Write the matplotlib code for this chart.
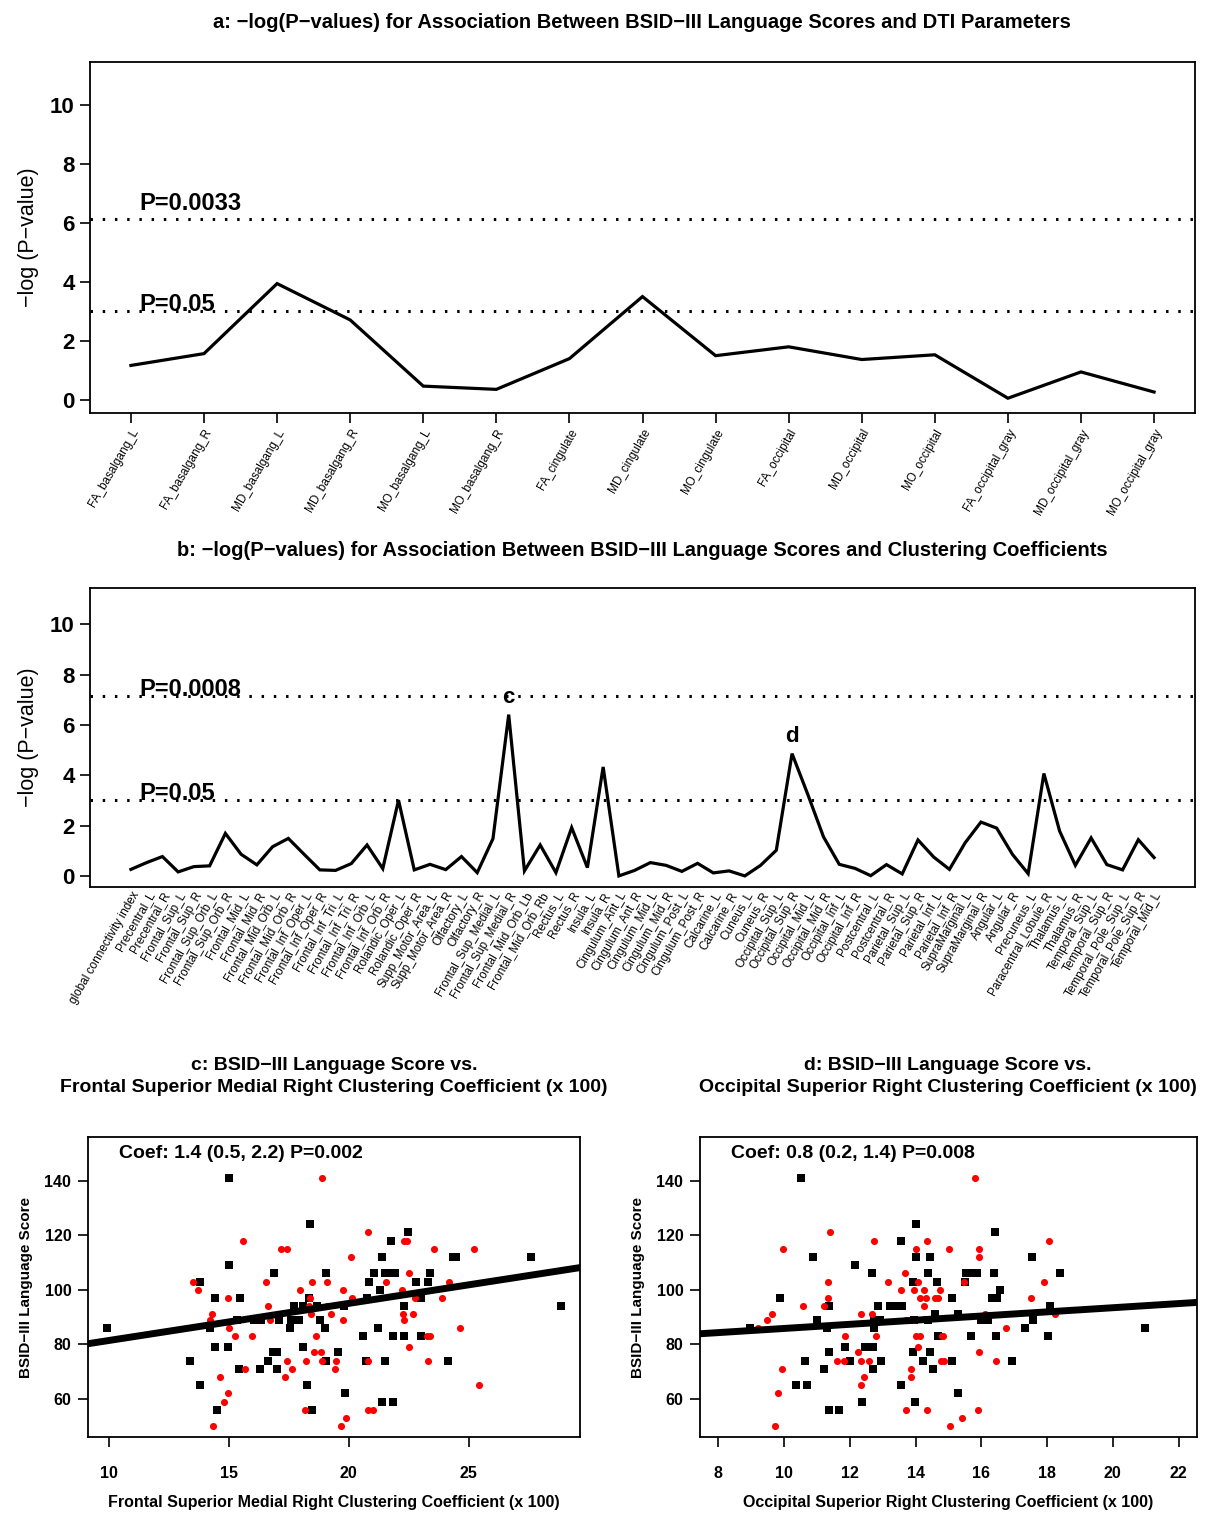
import numpy as np
import matplotlib
matplotlib.use("Agg")
import matplotlib.pyplot as plt
import matplotlib.transforms as mtransforms

plt.rcParams["font.family"] = ["Liberation Sans", "DejaVu Sans"]

# panel a: DTI parameters
dti_labels = ["FA_basalgang_L", "FA_basalgang_R", "MD_basalgang_L", "MD_basalgang_R",
              "MO_basalgang_L", "MO_basalgang_R", "FA_cingulate", "MD_cingulate",
              "MO_cingulate", "FA_occipital", "MD_occipital", "MO_occipital",
              "FA_occipital_gray", "MD_occipital_gray", "MO_occipital_gray"]
dti_logp = [1.17, 1.57, 3.94, 2.71, 0.47, 0.36, 1.40, 3.50, 1.50, 1.80, 1.37, 1.53,
            0.06, 0.95, 0.27]
dti_cut_labels = ["P=0.05", "P=0.0033"]
dti_cut_values = [3.0, 6.13]

# panel b: clustering coefficients
cc_labels = ["global connectivity index", "Precentral_L", "Precentral_R",
             "Frontal_Sup_L", "Frontal_Sup_R", "Frontal_Sup_Orb_L", "Frontal_Sup_Orb_R",
             "Frontal_Mid_L", "Frontal_Mid_R", "Frontal_Mid_Orb_L", "Frontal_Mid_Orb_R",
             "Frontal_Inf_Oper_L", "Frontal_Inf_Oper_R", "Frontal_Inf_Tri_L",
             "Frontal_Inf_Tri_R", "Frontal_Inf_Orb_L", "Frontal_Inf_Orb_R",
             "Rolandic_Oper_L", "Rolandic_Oper_R", "Supp_Motor_Area_L",
             "Supp_Motor_Area_R", "Olfactory_L", "Olfactory_R", "Frontal_Sup_Medial_L",
             "Frontal_Sup_Medial_R", "Frontal_Mid_Orb_Lb", "Frontal_Mid_Orb_Rb",
             "Rectus_L", "Rectus_R", "Insula_L", "Insula_R", "Cingulum_Ant_L",
             "Cingulum_Ant_R", "Cingulum_Mid_L", "Cingulum_Mid_R", "Cingulum_Post_L",
             "Cingulum_Post_R", "Calcarine_L", "Calcarine_R", "Cuneus_L", "Cuneus_R",
             "Occipital_Sup_L", "Occipital_Sup_R", "Occipital_Mid_L", "Occipital_Mid_R",
             "Occipital_Inf_L", "Occipital_Inf_R", "Postcentral_L", "Postcentral_R",
             "Parietal_Sup_L", "Parietal_Sup_R", "Parietal_Inf_L", "Parietal_Inf_R",
             "SupraMarginal_L", "SupraMarginal_R", "Angular_L", "Angular_R",
             "Precuneus_L", "Paracentral_Lobule_R", "Thalamus_L", "Thalamus_R",
             "Temporal_Sup_L", "Temporal_Sup_R", "Temporal_Pole_Sup_L",
             "Temporal_Pole_Sup_R", "Temporal_Mid_L"]
cc_logp = [0.26, 0.53, 0.77, 0.16, 0.37, 0.40, 1.69, 0.86, 0.44, 1.16,
           1.49, 0.86, 0.24, 0.22, 0.49, 1.23, 0.29, 3.01, 0.24, 0.46,
           0.25, 0.77, 0.13, 1.48, 6.41, 0.20, 1.23, 0.13, 1.92, 0.33,
           4.33, 0.00, 0.22, 0.53, 0.42, 0.18, 0.50, 0.12, 0.20, 0.00,
           0.42, 1.02, 4.86, 3.24, 1.55, 0.46, 0.30, 0.01, 0.45, 0.08,
           1.43, 0.75, 0.26, 1.32, 2.14, 1.90, 0.86, 0.09, 4.07, 1.78,
           0.42, 1.51, 0.45, 0.24, 1.44, 0.73]
cc_cut_labels = ["P=0.05", "P=0.0008"]
cc_cut_values = [3.0, 7.13]
cc_marks = {"c": "Frontal_Sup_Medial_R", "d": "Occipital_Sup_R"}

# panel c: Frontal Superior Medial Right
c_black_x = [9.90, 15.0, 18.39, 21.75, 22.45, 14.98, 21.38, 24.35, 24.46, 27.6,
             16.86, 19.04, 21.06, 21.5, 21.75, 21.93, 23.4, 13.8, 20.85, 22.8,
             23.3, 21.3, 14.4, 15.48, 18.35, 20.75, 23.0, 17.7, 18.08, 18.67,
             19.78, 22.28, 28.85, 15.35, 16.05, 16.33, 17.07, 17.58, 17.93, 18.8,
             14.19, 17.55, 19.0, 21.2, 20.57, 21.82, 22.28, 23.0, 14.41, 14.95,
             18.09, 16.83, 17.0, 19.55, 13.37, 16.63, 19.04, 20.71, 21.5, 24.14,
             15.4, 16.3, 17.0, 13.8, 18.26, 19.83, 21.4, 21.85, 14.5, 18.46]
c_black_y = [86, 141, 124, 118, 121, 109, 112, 112, 112, 112,
             106, 106, 106, 106, 106, 106, 106, 103, 103, 103,
             103, 100, 97, 97, 97, 97, 97, 94, 94, 94,
             94, 94, 94, 89, 89, 89, 89, 89, 89, 89,
             86, 86, 86, 86, 83, 83, 83, 83, 79, 79,
             79, 77, 77, 77, 74, 74, 74, 74, 74, 74,
             71, 71, 71, 65, 65, 62, 59, 59, 56, 56]
c_red_x = [18.9, 15.59, 20.81, 22.28, 22.42, 17.16, 17.44, 23.56, 25.2, 20.08,
           22.52, 13.48, 16.55, 18.46, 19.1, 21.54, 24.16, 13.7, 17.98, 19.75,
           22.2, 14.95, 18.39, 20.11, 22.77, 23.87, 16.63, 18.35, 19.1, 14.31,
           18.44, 19.26, 22.24, 22.66, 14.19, 16.7, 19.74, 22.32, 14.98, 24.63,
           15.26, 15.97, 18.64, 23.24, 23.39, 22.49, 18.55, 18.83, 17.44, 18.2,
           18.9, 19.46, 20.81, 23.28, 15.66, 17.62, 19.42, 14.62, 17.32, 25.44,
           14.95, 14.81, 18.16, 20.81, 20.99, 19.9, 14.33, 19.69]
c_red_y = [141, 118, 121, 118, 118, 115, 115, 115, 115, 112,
           106, 103, 103, 103, 103, 103, 103, 100, 100, 100,
           100, 97, 97, 97, 97, 97, 94, 94, 94, 91,
           91, 91, 91, 91, 89, 89, 89, 89, 86, 86,
           83, 83, 83, 83, 83, 79, 77, 77, 74, 74,
           74, 74, 74, 74, 71, 71, 71, 68, 68, 65,
           62, 59, 56, 56, 56, 53, 50, 50]
c_fit = (67.8, 1.36)  # intercept, slope
c_coef_text = "Coef: 1.4 (0.5, 2.2) P=0.002"

# panel d: Occipital Superior Right
d_black_x = [8.96, 9.88, 10.51, 10.87, 11.0, 10.64, 10.37, 10.68, 11.36, 11.3,
             11.35, 11.22, 11.35, 11.66, 12.15, 11.84, 12.0, 12.36, 12.67, 12.86,
             12.72, 12.93, 12.74, 12.47, 12.7, 12.96, 12.71, 13.23, 13.4, 13.59,
             13.57, 13.55, 14.02, 14.02, 13.91, 13.96, 13.93, 13.97, 14.45, 14.38,
             14.66, 14.58, 14.39, 14.22, 14.45, 14.54, 14.67, 15.12, 15.28, 15.11,
             15.3, 15.5, 15.54, 15.71, 15.87, 15.68, 15.99, 16.21, 16.38, 16.41,
             16.32, 16.49, 16.58, 16.46, 16.94, 17.34, 17.54, 17.58, 18.03, 18.09,
             18.38, 20.99]
d_black_y = [86, 97, 141, 112, 89, 74, 65, 65, 94, 86,
             77, 71, 56, 56, 109, 79, 74, 59, 106, 94,
             89, 89, 86, 79, 79, 74, 71, 94, 94, 94,
             118, 65, 124, 112, 103, 89, 77, 59, 112, 106,
             103, 91, 89, 74, 77, 71, 83, 97, 91, 74,
             62, 103, 106, 106, 106, 83, 89, 89, 106, 121,
             97, 97, 100, 83, 74, 86, 112, 89, 83, 94,
             106, 86]
d_red_x = [9.21, 9.48, 9.63, 9.97, 9.93, 9.81, 9.71, 10.58, 11.21, 11.32,
           11.34, 11.4, 11.61, 11.86, 11.82, 12.26, 12.33, 12.33, 12.35, 12.43,
           12.58, 12.68, 12.72, 12.78, 13.17, 13.55, 13.69, 13.71, 13.96, 13.85,
           13.86, 13.71, 13.94, 14.02, 14.06, 14.02, 14.14, 14.08, 14.13, 14.25,
           14.24, 14.34, 14.33, 14.34, 14.6, 14.69, 14.75, 14.79, 14.83, 14.76,
           14.86, 15.01, 15.06, 15.42, 15.46, 15.81, 15.92, 15.92, 15.93, 15.9,
           16.1, 16.44, 16.74, 17.5, 17.91, 18.07, 18.25]
d_red_y = [86, 89, 91, 115, 71, 62, 50, 94, 94, 103,
           97, 121, 74, 83, 74, 77, 91, 74, 65, 68,
           74, 91, 118, 83, 103, 100, 106, 89, 89, 71,
           68, 56, 100, 115, 103, 83, 83, 79, 97, 100,
           94, 118, 97, 56, 97, 97, 100, 83, 83, 74,
           74, 115, 50, 53, 103, 141, 115, 112, 77, 56,
           91, 74, 86, 97, 103, 118, 91]
d_fit = (78.2, 0.76)
d_coef_text = "Coef: 0.8 (0.2, 1.4) P=0.008"

W, H = 1208, 1515


def px_axes(fig, left, top, right, bottom):
    return fig.add_axes([left / W, 1 - bottom / H, (right - left) / W, (bottom - top) / H])


def style_box(ax, lw=1.3):
    for s in ax.spines.values():
        s.set_linewidth(lw)
        s.set_color("black")


def px_text(fig, x, y, s, **kw):
    # place text by pixel position, y measured from the top
    fig.text(x / W, 1 - y / H, s, ha="center", va="center", **kw)


def pvalue_panel(ax, labels, values, cut_labels, cut_values, label_offsets,
                 xfont=8, xticks=True):
    x = np.arange(1, len(values) + 1)
    ax.plot(x, values, color="black", lw=2.3, solid_joinstyle="miter")
    pad = 0.04 * (len(values) - 1)
    ax.set_xlim(1 - pad, len(values) + pad)
    ax.set_ylim(-0.44, 11.44)
    ax.set_yticks([0, 2, 4, 6, 8, 10])
    ax.tick_params(axis="y", labelsize=16, length=7, width=1.2, pad=4)
    for t in ax.get_yticklabels():
        t.set_fontweight("bold")
    ax.set_xticks(x)
    ax.set_xticklabels(labels, rotation=60, ha="right", rotation_mode="anchor",
                       fontsize=xfont)
    if xticks:
        ax.tick_params(axis="x", length=7, width=1.2, pad=3)
    else:
        ax.tick_params(axis="x", length=0, pad=2)
    ax.set_ylabel("\u2212log (P\u2212value)", fontsize=15.5, labelpad=8)
    trans = mtransforms.blended_transform_factory(ax.transAxes, ax.transData)
    for lab, val, off in zip(cut_labels, cut_values, label_offsets):
        ax.axhline(val, color="black", lw=2.2, linestyle=(0, (0.8, 3.2)))
        ax.text(0.045, val + off, lab, transform=trans, fontsize=17,
                fontweight="bold", ha="left", va="baseline")
    style_box(ax)


def scatter_panel(ax, bx, by, rx, ry, fit, coef_text, xlim, xticks, xlabel):
    ax.scatter(bx, by, marker="s", s=30, color="black", linewidths=0, zorder=3)
    ax.scatter(rx, ry, marker="o", s=26, color="red", linewidths=0, zorder=3)
    ax.axline((0, fit[0]), slope=fit[1], color="black", lw=5, zorder=4)
    ax.set_xlim(*xlim)
    ax.set_ylim(46.0, 156.0)
    ax.set_xticks(xticks)
    ax.set_yticks([60, 80, 100, 120, 140])
    ax.tick_params(labelsize=11.5, length=7, width=1.2)
    ax.tick_params(axis="x", pad=14)
    ax.tick_params(axis="y", pad=5)
    for t in ax.get_xticklabels() + ax.get_yticklabels():
        t.set_fontweight("bold")
    ax.set_ylabel("BSID\u2212III Language Score", fontsize=11, fontweight="bold",
                  labelpad=8)
    ax.set_xlabel(xlabel, fontsize=11.5, fontweight="bold", labelpad=10)
    ax.text(0.062, 0.975, coef_text, transform=ax.transAxes, fontsize=14,
            fontweight="bold", ha="left", va="top")
    style_box(ax)


fig = plt.figure(figsize=(W / 100, H / 100), dpi=100)

ax_a = px_axes(fig, 90, 62, 1195, 413)
pvalue_panel(ax_a, dti_labels, dti_logp, dti_cut_labels, dti_cut_values,
             [0.0, 0.3], xfont=8.5, xticks=True)
px_text(fig, 642, 22, "a: \u2212log(P\u2212values) for Association Between BSID\u2212III "
        "Language Scores and DTI Parameters", fontsize=14.5, fontweight="bold")

ax_b = px_axes(fig, 90, 588, 1195, 887)
pvalue_panel(ax_b, cc_labels, cc_logp, cc_cut_labels, cc_cut_values,
             [0.0, 0.0], xfont=8.5, xticks=False)
px_text(fig, 642, 551, "b: \u2212log(P\u2212values) for Association Between BSID\u2212III "
        "Language Scores and Clustering Coefficients", fontsize=14.5, fontweight="bold")
for mark, name in cc_marks.items():
    i = cc_labels.index(name)
    ax_b.text(i + 1, cc_logp[i] + 0.25, mark, fontsize=16, fontweight="bold",
              ha="center", va="bottom")

ax_c = px_axes(fig, 88, 1137, 580, 1437)
scatter_panel(ax_c, c_black_x, c_black_y, c_red_x, c_red_y, c_fit, c_coef_text,
              (9.12, 29.64), [10, 15, 20, 25],
              "Frontal Superior Medial Right Clustering Coefficient (x 100)")
px_text(fig, 334, 1065, "c: BSID\u2212III Language Score vs.", fontsize=14,
        fontweight="bold")
px_text(fig, 334, 1088, "Frontal Superior Medial Right Clustering Coefficient (x 100)",
        fontsize=14, fontweight="bold")

ax_d = px_axes(fig, 700, 1137, 1197, 1437)
scatter_panel(ax_d, d_black_x, d_black_y, d_red_x, d_red_y, d_fit, d_coef_text,
              (7.44, 22.56), [8, 10, 12, 14, 16, 18, 20, 22],
              "Occipital Superior Right Clustering Coefficient (x 100)")
px_text(fig, 948, 1065, "d: BSID\u2212III Language Score vs.", fontsize=14,
        fontweight="bold")
px_text(fig, 948, 1088, "Occipital Superior Right Clustering Coefficient (x 100)",
        fontsize=14, fontweight="bold")

fig.savefig("out.png", dpi=100)
